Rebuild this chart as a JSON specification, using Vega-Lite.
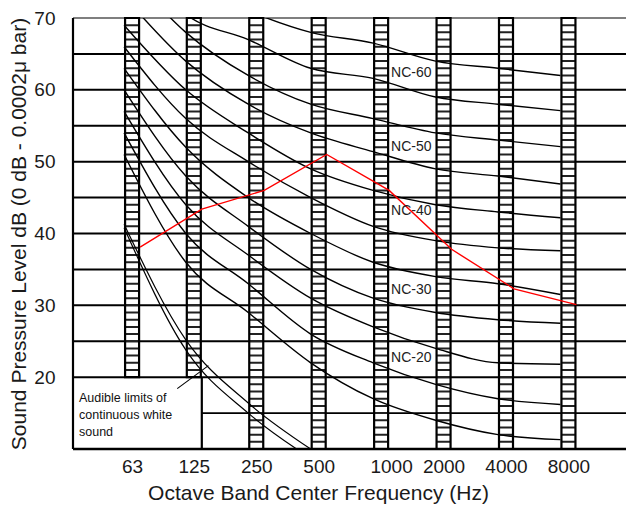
{
  "$schema": "https://vega.github.io/schema/vega-lite/v6.json",
  "width": 553,
  "height": 431,
  "autosize": {"type": "none"},
  "padding": {"left": 73, "top": 18, "right": 0, "bottom": 57},
  "config": {"view": {"stroke": null}, "font": "Liberation Sans", "text": {"font": "Liberation Sans"}},
  "datasets": {
    "grid": [{"level": 65}, {"level": 60}, {"level": 55}, {"level": 50}, {"level": 45}, {"level": 40}, {"level": 35}, {"level": 30}, {"level": 25}, {"level": 20}],
    "bands": [
      {"freq": 63, "low": 20, "level": 70},
      {"freq": 125, "low": 20, "level": 70},
      {"freq": 250, "low": 10, "level": 70},
      {"freq": 500, "low": 10, "level": 70},
      {"freq": 1000, "low": 10, "level": 70},
      {"freq": 2000, "low": 10, "level": 70},
      {"freq": 4000, "low": 10, "level": 70},
      {"freq": 8000, "low": 10, "level": 70}
    ],
    "nc": [
      {"curve": "NC-15", "freq": 63, "level": 51}, {"curve": "NC-15", "freq": 125, "level": 36}, {"curve": "NC-15", "freq": 250, "level": 29}, {"curve": "NC-15", "freq": 500, "level": 22}, {"curve": "NC-15", "freq": 1000, "level": 17}, {"curve": "NC-15", "freq": 2000, "level": 14}, {"curve": "NC-15", "freq": 4000, "level": 12}, {"curve": "NC-15", "freq": 8000, "level": 11.3},
      {"curve": "NC-20", "freq": 63, "level": 54}, {"curve": "NC-20", "freq": 125, "level": 40}, {"curve": "NC-20", "freq": 250, "level": 33}, {"curve": "NC-20", "freq": 500, "level": 26}, {"curve": "NC-20", "freq": 1000, "level": 22}, {"curve": "NC-20", "freq": 2000, "level": 19}, {"curve": "NC-20", "freq": 4000, "level": 17}, {"curve": "NC-20", "freq": 8000, "level": 16.2},
      {"curve": "NC-25", "freq": 63, "level": 57}, {"curve": "NC-25", "freq": 125, "level": 44}, {"curve": "NC-25", "freq": 250, "level": 37}, {"curve": "NC-25", "freq": 500, "level": 31}, {"curve": "NC-25", "freq": 1000, "level": 27}, {"curve": "NC-25", "freq": 2000, "level": 24}, {"curve": "NC-25", "freq": 4000, "level": 22}, {"curve": "NC-25", "freq": 8000, "level": 21.8},
      {"curve": "NC-30", "freq": 63, "level": 60}, {"curve": "NC-30", "freq": 125, "level": 48}, {"curve": "NC-30", "freq": 250, "level": 41}, {"curve": "NC-30", "freq": 500, "level": 35}, {"curve": "NC-30", "freq": 1000, "level": 31}, {"curve": "NC-30", "freq": 2000, "level": 29}, {"curve": "NC-30", "freq": 4000, "level": 28}, {"curve": "NC-30", "freq": 8000, "level": 27.5},
      {"curve": "NC-35", "freq": 63, "level": 63}, {"curve": "NC-35", "freq": 125, "level": 52}, {"curve": "NC-35", "freq": 250, "level": 45}, {"curve": "NC-35", "freq": 500, "level": 40}, {"curve": "NC-35", "freq": 1000, "level": 36}, {"curve": "NC-35", "freq": 2000, "level": 34}, {"curve": "NC-35", "freq": 4000, "level": 33}, {"curve": "NC-35", "freq": 8000, "level": 31.5},
      {"curve": "NC-40", "freq": 63, "level": 66}, {"curve": "NC-40", "freq": 125, "level": 56}, {"curve": "NC-40", "freq": 250, "level": 50}, {"curve": "NC-40", "freq": 500, "level": 45}, {"curve": "NC-40", "freq": 1000, "level": 41}, {"curve": "NC-40", "freq": 2000, "level": 39}, {"curve": "NC-40", "freq": 4000, "level": 38}, {"curve": "NC-40", "freq": 8000, "level": 37.6},
      {"curve": "NC-45", "freq": 63, "level": 69}, {"curve": "NC-45", "freq": 125, "level": 60}, {"curve": "NC-45", "freq": 250, "level": 54}, {"curve": "NC-45", "freq": 500, "level": 49}, {"curve": "NC-45", "freq": 1000, "level": 46}, {"curve": "NC-45", "freq": 2000, "level": 44}, {"curve": "NC-45", "freq": 4000, "level": 43}, {"curve": "NC-45", "freq": 8000, "level": 42.2},
      {"curve": "NC-50", "freq": 63, "level": 73}, {"curve": "NC-50", "freq": 125, "level": 64}, {"curve": "NC-50", "freq": 250, "level": 58}, {"curve": "NC-50", "freq": 500, "level": 54}, {"curve": "NC-50", "freq": 1000, "level": 51.4}, {"curve": "NC-50", "freq": 2000, "level": 49}, {"curve": "NC-50", "freq": 4000, "level": 48}, {"curve": "NC-50", "freq": 8000, "level": 46.9},
      {"curve": "NC-55", "freq": 63, "level": 77}, {"curve": "NC-55", "freq": 125, "level": 68}, {"curve": "NC-55", "freq": 250, "level": 62}, {"curve": "NC-55", "freq": 500, "level": 58}, {"curve": "NC-55", "freq": 1000, "level": 56}, {"curve": "NC-55", "freq": 2000, "level": 54}, {"curve": "NC-55", "freq": 4000, "level": 53}, {"curve": "NC-55", "freq": 8000, "level": 52.1},
      {"curve": "NC-60", "freq": 63, "level": 80}, {"curve": "NC-60", "freq": 125, "level": 70.5}, {"curve": "NC-60", "freq": 250, "level": 67}, {"curve": "NC-60", "freq": 500, "level": 63}, {"curve": "NC-60", "freq": 1000, "level": 61.6}, {"curve": "NC-60", "freq": 2000, "level": 59}, {"curve": "NC-60", "freq": 4000, "level": 58}, {"curve": "NC-60", "freq": 8000, "level": 57.1},
      {"curve": "NC-65", "freq": 63, "level": 83}, {"curve": "NC-65", "freq": 125, "level": 75}, {"curve": "NC-65", "freq": 250, "level": 71}, {"curve": "NC-65", "freq": 500, "level": 68}, {"curve": "NC-65", "freq": 1000, "level": 66.5}, {"curve": "NC-65", "freq": 2000, "level": 64}, {"curve": "NC-65", "freq": 4000, "level": 63}, {"curve": "NC-65", "freq": 8000, "level": 62}
    ],
    "white": [
      {"curve": "A", "freq": 63, "level": 40.8}, {"curve": "A", "freq": 125, "level": 23.8}, {"curve": "A", "freq": 250, "level": 15}, {"curve": "A", "freq": 500, "level": 8.7},
      {"curve": "B", "freq": 63, "level": 41.3}, {"curve": "B", "freq": 125, "level": 25.2}, {"curve": "B", "freq": 250, "level": 16.4}, {"curve": "B", "freq": 500, "level": 10}
    ],
    "measured": [
      {"freq": 63, "level": 38.1}, {"freq": 125, "level": 43.4}, {"freq": 250, "level": 46.0}, {"freq": 500, "level": 51.0},
      {"freq": 1000, "level": 46.0}, {"freq": 2000, "level": 37.8}, {"freq": 4000, "level": 32.3}, {"freq": 8000, "level": 30.1}
    ],
    "nclabels": [
      {"label": "NC-60", "freq": 1000, "level": 62.4},
      {"label": "NC-50", "freq": 1000, "level": 52.1},
      {"label": "NC-40", "freq": 1000, "level": 43.1},
      {"label": "NC-30", "freq": 1000, "level": 32.2},
      {"label": "NC-20", "freq": 1000, "level": 22.6}
    ],
    "note": [{"label": "Audible limits of\ncontinuous white\nsound", "freq": 34.56, "level": 18.0}],
    "leader": [{"freq": 104, "freq2": 147, "level": 18.4, "level2": 21.6}]
  },
  "encoding": {
    "x": {
      "field": "freq", "type": "quantitative",
      "scale": {"type": "log", "domain": [34.56, 14338], "nice": false},
      "axis": {
        "values": [63, 125, 250, 500, 1000, 2000, 4000, 8000],
        "format": "d",
        "labelOffset": {"expr": "datum.value == 1000 ? 10 : 0"},
        "title": "Octave Band Center Frequency (Hz)",
        "titleX": 245,
        "grid": false, "domain": false, "ticks": false,
        "labelFontSize": 19, "labelColor": "#1a1a1a", "labelPadding": 8, "labelFlush": false,
        "titleFontSize": 21, "titleFontWeight": "normal", "titleColor": "#1a1a1a", "titlePadding": 6
      }
    },
    "y": {
      "field": "level", "type": "quantitative",
      "scale": {"domain": [10, 70], "nice": false, "zero": false},
      "axis": {
        "values": [20, 30, 40, 50, 60, 70],
        "title": "Sound Pressure Level dB (0 dB - 0.0002μ bar)",
        "grid": false, "domain": false, "ticks": false,
        "labelFontSize": 19, "labelColor": "#1a1a1a", "labelPadding": 18, "labelFlush": false,
        "titleFontSize": 21, "titleFontWeight": "normal", "titleColor": "#1a1a1a", "titlePadding": 4
      }
    }
  },
  "layer": [
    {
      "data": {"name": "grid"},
      "mark": {"type": "rule", "color": "#000", "strokeWidth": 2},
      "encoding": {"x": null}
    },
    {
      "data": {"values": [{"freq": 125, "level": 15}]},
      "mark": {"type": "rule", "color": "#000", "strokeWidth": 1.6, "xOffset": 7.5},
      "encoding": {"x2": {"value": "width"}}
    },
    {
      "data": {"values": [{"level": 70}]},
      "mark": {"type": "rule", "color": "#555", "strokeWidth": 1.5},
      "encoding": {"x": null}
    },
    {
      "data": {"name": "bands"},
      "mark": {"type": "rule", "color": "#222", "strokeWidth": 13, "strokeDash": [2, 5.1833], "strokeDashOffset": 1},
      "encoding": {"y2": {"field": "low"}}
    },
    {
      "data": {"name": "bands"},
      "mark": {"type": "bar", "width": 14, "fill": "transparent", "stroke": "#000", "strokeWidth": 2.2},
      "encoding": {"y2": {"field": "low"}}
    },
    {
      "data": {"values": [{"freq": 125, "level": 20, "low": 10}]},
      "mark": {"type": "rule", "color": "#000", "strokeWidth": 2.2, "xOffset": 8},
      "encoding": {"y2": {"field": "low"}}
    },
    {
      "data": {"values": [{"level": 70, "low": 10}]},
      "mark": {"type": "rule", "color": "#000", "strokeWidth": 2.2},
      "encoding": {"x": {"value": 0}, "y2": {"field": "low"}}
    },
    {
      "data": {"values": [{"level": 10}]},
      "mark": {"type": "rule", "color": "#000", "strokeWidth": 2.5},
      "encoding": {"x": null}
    },
    {
      "data": {"name": "nc"},
      "mark": {"type": "line", "color": "#000", "strokeWidth": 1.4, "interpolate": "monotone", "xOffset": -8, "clip": true},
      "encoding": {"detail": {"field": "curve"}}
    },
    {
      "data": {"name": "white"},
      "mark": {"type": "line", "color": "#000", "strokeWidth": 1.2, "interpolate": "monotone", "xOffset": -8, "clip": true},
      "encoding": {"detail": {"field": "curve"}}
    },
    {
      "data": {"name": "measured"},
      "mark": {"type": "line", "color": "#ff0000", "strokeWidth": 1.4, "xOffset": 8},
      "encoding": {}
    },
    {
      "data": {"name": "leader"},
      "mark": {"type": "rule", "color": "#000", "strokeWidth": 1.1},
      "encoding": {"x2": {"field": "freq2"}, "y2": {"field": "level2"}}
    },
    {
      "data": {"name": "nclabels"},
      "mark": {"type": "text", "align": "left", "baseline": "middle", "dx": 10, "fontSize": 14, "color": "#222"},
      "encoding": {"text": {"field": "label"}}
    },
    {
      "data": {"name": "note"},
      "mark": {"type": "text", "align": "left", "baseline": "top", "dx": 1, "fontSize": 12.5, "lineHeight": 17, "lineBreak": "\n", "color": "#111"},
      "encoding": {"text": {"field": "label"}}
    }
  ]
}
